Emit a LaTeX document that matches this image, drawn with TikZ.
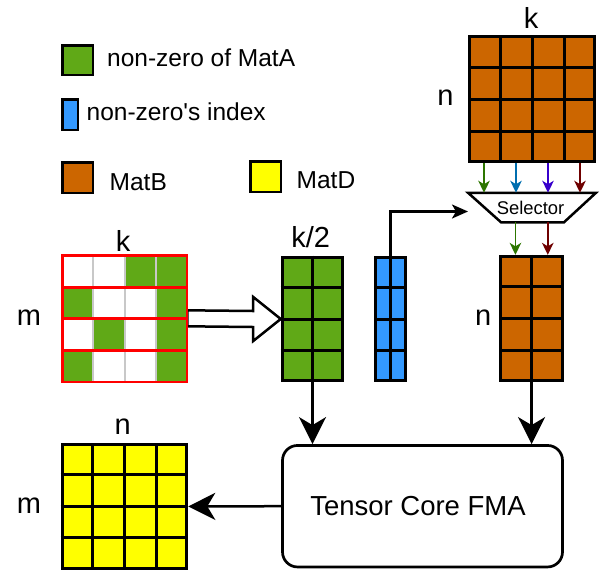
\documentclass[tikz,border=0pt]{standalone}
\usepackage{fontspec}
\newfontfamily\lsans{Liberation Sans}
\usetikzlibrary{arrows.meta,calc}
\definecolor{matA}{HTML}{60A917}
\definecolor{idxB}{HTML}{3399FF}
\definecolor{matB}{HTML}{CC6600}
\definecolor{matD}{HTML}{FFFF00}
\definecolor{zgray}{HTML}{C8C8C8}
\definecolor{arG}{HTML}{2D7600}
\definecolor{arB}{HTML}{006EAF}
\definecolor{arP}{HTML}{3700CC}
\definecolor{arR}{HTML}{6F0000}
\newcommand\mygrid[3]{%
  \pgfmathtruncatemacro\mync{#2-1}\pgfmathtruncatemacro\mynr{#3-1}%
  \foreach \i in {1,...,\mync}{\draw[gridln] ($(#1.north west)!\i/#2!(#1.north east)$) -- ($(#1.south west)!\i/#2!(#1.south east)$);}%
  \foreach \j in {1,...,\mynr}{\draw[gridln] ($(#1.north west)!\j/#3!(#1.south west)$) -- ($(#1.north east)!\j/#3!(#1.south east)$);}%
}
\begin{document}
\begin{tikzpicture}[x=1pt,y=-1pt,
  matbox/.style={draw=black, line width=3pt, inner sep=0pt},
  gridln/.style={draw=black, line width=3pt},
  legbox/.style={draw=black, line width=2.5pt, inner sep=0pt},
  lbl/.style={inner sep=0pt, font=\lsans\fontsize{29}{34}\selectfont},
  leg/.style={inner sep=0pt, anchor=base west, font=\lsans\fontsize{24.5}{29}\selectfont},
  bigarrow/.style={draw=black, line width=2.5pt, -{Stealth[length=27pt,width=27pt,inset=8pt]}},
  medarrow/.style={draw=black, line width=2.2pt, -{Stealth[length=16pt,width=14pt,inset=4pt]}},
  smallarrow/.style={line width=1.8pt, -{Stealth[length=12pt,width=11.5pt,inset=3.5pt]}},
  hollow/.style={draw=black, line width=2.5pt, fill=white, line join=miter},
  ]
\useasboundingbox (0,0) rectangle (601,571);

% ---------------- legend ----------------
\node[legbox, fill=matA, minimum width=30.5, minimum height=29.5] (lgA) at (77.5,60) {};
\node[leg] (tA) at (107,66.5) {non-zero of MatA};
\node[legbox, fill=idxB, minimum width=15.5, minimum height=30.5] (lgI) at (70,114.5) {};
\node[leg] (tI) at (86.5,120.5) {non-zero's index};
\node[legbox, fill=matB, minimum width=30.5, minimum height=30.5] (lgB) at (77.5,177.5) {};
\node[leg] (tB) at (109.5,190.5) {MatB};
\node[legbox, fill=matD, minimum width=30.5, minimum height=30.5] (lgD) at (265.5,176.5) {};
\node[leg] (tD) at (296.5,188.3) {MatD};

% ---------------- matrix A (sparse) ----------------
\node[inner sep=0pt, minimum width=124.9, minimum height=125.3] (A) at (124.6,318.3) {};
\foreach \c/\r in {2/0,3/0,0/1,3/1,1/2,3/2,0/3,3/3}
  \fill[matA] (61+\c*31.8, 254.3+\r*32) rectangle ++(31.8,32);
\foreach \c in {1,2,3}
  \draw[zgray, line width=2pt] (61+\c*31.8, 255) -- ++(0,126.6);
% hollow arrow A -> G (drawn before red rows)
\node[lbl] (kA) at (123,240.7) {k};
\node[lbl] (mA) at (29,318) {m};

% ---------------- compressed non-zeros (G) ----------------
\node[matbox, fill=matA, minimum width=60.6, minimum height=123.6] (G) at (312.5,319) {};
\mygrid{G}{2}{4}
\node[lbl] (kG) at (310.7,237) {k/2};

\draw[hollow] ([yshift=8pt]A.east) -- ([xshift=-27.5pt,yshift=8pt]G.west)
  -- ([xshift=-27.5pt,yshift=22pt]G.west) -- (G.west)
  -- ([xshift=-27.5pt,yshift=-22pt]G.west) -- ([xshift=-27.5pt,yshift=-8pt]G.west)
  -- ([yshift=-8pt]A.east) -- cycle;
\foreach \r in {0,...,3}
  \draw[red, line width=2.7pt] (62.35, 255.65+\r*31.575) rectangle ++(124.5,31.575);

% ---------------- index (I) ----------------
\node[matbox, fill=idxB, minimum width=29.4, minimum height=123.6] (I) at (390.5,319) {};
\mygrid{I}{2}{4}

% ---------------- matrix B ----------------
\node[matbox, fill=matB, minimum width=125, minimum height=125] (B) at (532,99) {};
\mygrid{B}{4}{4}
\node[lbl] (kB) at (531,17.8) {k};
\node[lbl] (nB) at (445.5,98) {n};

% ---------------- selector ----------------
\node[inner sep=0pt, outer sep=0pt, minimum width=128, minimum height=29.5,
      font=\lsans\fontsize{18.4}{22}\selectfont] (sel) at (532,207.5) {};
\draw[line width=2.5pt, fill=white, line join=miter] (sel.north west) -- (sel.north east)
  -- ([xshift=-32pt]sel.south east) -- ([xshift=33pt]sel.south west) -- cycle;
\node[inner sep=0pt, font=\lsans\fontsize{18.4}{22}\selectfont] (selt) at (530.5,207.5) {Selector};

% ---------------- selected B (O) ----------------
\node[matbox, fill=matB, minimum width=61.7, minimum height=124.5] (O) at (531.6,318.6) {};
\mygrid{O}{2}{4}
\node[lbl] (nO) at (483.3,318) {n};

% ---------------- result D (Y) ----------------
\node[matbox, fill=matD, minimum width=124.6, minimum height=123.2] (Y) at (124.5,506.4) {};
\mygrid{Y}{4}{4}
\node[lbl] (nY) at (122.7,427) {n};
\node[lbl] (mY) at (29,506) {m};

% ---------------- tensor core ----------------
\node[draw=black, line width=2.7pt, rounded corners=15pt, minimum width=280, minimum height=121.5,
      inner sep=0pt, font=\lsans\fontsize{27.5}{33}\selectfont] (T) at (422.5,506.2) {\raisebox{-4pt}{Tensor Core FMA}\kern 9pt};

% ---------------- connectors ----------------
\foreach \f/\col [count=\k] in {0.125/arG,0.375/arB,0.625/arP,0.875/arR}{
  \coordinate (bc\k) at ($(B.south west)!\f!(B.south east)$);
  \draw[smallarrow, \col] (bc\k) -- (bc\k |- sel.north);
}
\foreach \f/\col [count=\k] in {0.25/arG,0.75/arR}{
  \coordinate (oc\k) at ($(O.north west)!\f!(O.north east)$);
  \draw[smallarrow, \col] (oc\k |- sel.south) -- (oc\k);
}
\draw[medarrow] (I.north) |- ([yshift=-4pt]sel.west);
\draw[bigarrow] (G.south) -- (G.south |- T.north);
\draw[bigarrow] (O.south) -- (O.south |- T.north);
\draw[bigarrow] (T.west) -- (Y.east);
\end{tikzpicture}
\end{document}
